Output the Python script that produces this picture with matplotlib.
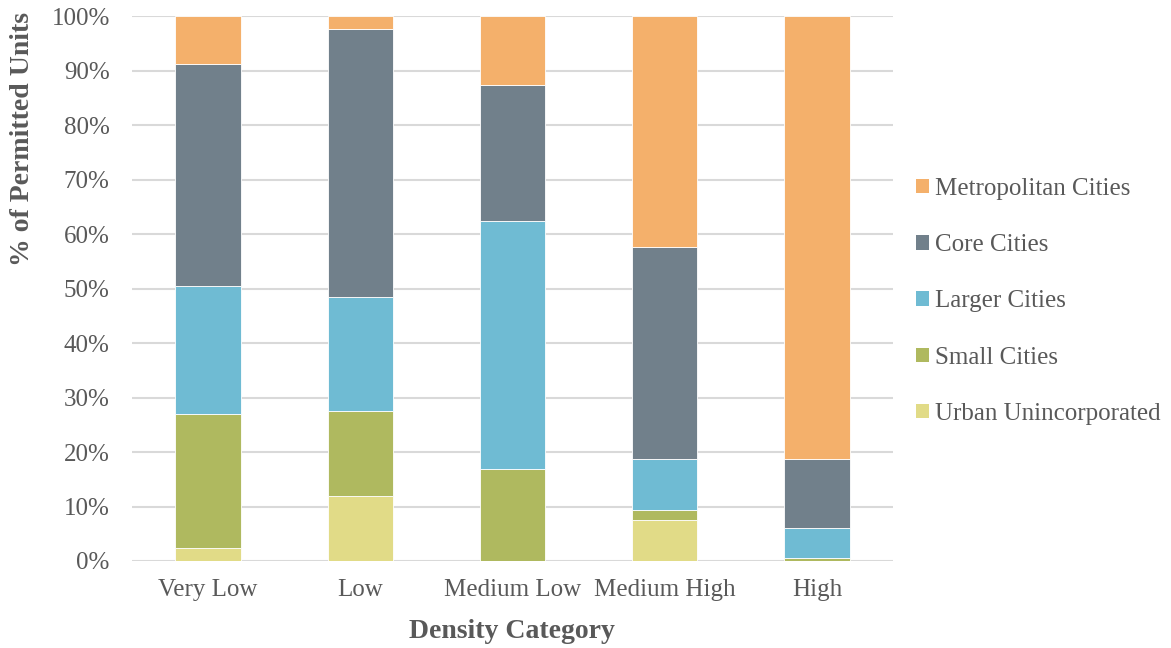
import matplotlib
matplotlib.use("Agg")
import matplotlib.pyplot as plt
from matplotlib.patches import Patch
from matplotlib.ticker import PercentFormatter

categories = ["Very Low", "Low", "Medium Low", "Medium High", "High"]
urban_unincorporated = [2.3, 11.9, 0.0, 7.5, 0.0]
small_cities = [24.7, 15.6, 16.8, 1.9, 0.6]
larger_cities = [23.5, 20.9, 45.7, 9.3, 5.4]
core_cities = [40.8, 49.3, 24.8, 38.9, 12.7]
metropolitan_cities = [8.7, 2.3, 12.7, 42.4, 81.3]

series = [
    ("Urban Unincorporated", urban_unincorporated, "#E1DB87"),
    ("Small Cities", small_cities, "#AFB95F"),
    ("Larger Cities", larger_cities, "#6FBBD3"),
    ("Core Cities", core_cities, "#71808B"),
    ("Metropolitan Cities", metropolitan_cities, "#F4B06B"),
]

plt.rcParams['font.family'] = ['Liberation Serif', 'DejaVu Serif']

fig = plt.figure(figsize=(11.71, 6.48), dpi=100)
ax = fig.add_axes([0.1127, 0.1343, 0.6499, 0.8405])

x = list(range(len(categories)))
bottom = [0.0] * len(categories)
for name, vals, col in series:
    ax.bar(x, vals, width=0.43, bottom=bottom, color=col, edgecolor="#FFFFFF",
           linewidth=0.6, zorder=3)
    bottom = [b + v for b, v in zip(bottom, vals)]

ax.set_xlim(-0.5, len(categories) - 0.5)
ax.set_ylim(0, 100)
ax.set_yticks(range(0, 101, 10))
ax.yaxis.set_major_formatter(PercentFormatter(decimals=0))
ax.set_xticks(x)
ax.set_xticklabels(categories)
ax.tick_params(axis='both', length=0, labelsize=18, colors="#595959")
ax.tick_params(axis='y', pad=16)
ax.tick_params(axis='x', pad=13)
ax.grid(axis='y', color="#D9D9D9", linewidth=1.5, zorder=0)
for s in ax.spines.values():
    s.set_visible(False)

fig.text(23 / 1171, 1 - 139 / 648, "% of Permitted Units", rotation=90,
         ha='center', va='center', fontsize=20, fontweight='bold', color="#595959")
fig.text(512 / 1171, 1 - 632 / 648, "Density Category", ha='center', va='center',
         fontsize=20, fontweight='bold', color="#595959")

handles = [Patch(facecolor=col, edgecolor='none', label=name) for name, _, col in series][::-1]
leg = fig.legend(handles=handles, loc='upper left', bbox_to_anchor=(916 / 1171, 1 - 178 / 648),
                 frameon=False, fontsize=18, labelspacing=1.37, handlelength=0.52,
                 handleheight=0.52, handletextpad=0.24, borderpad=0, borderaxespad=0)
for t in leg.get_texts():
    t.set_color("#595959")

fig.savefig("out.png", dpi=100)
